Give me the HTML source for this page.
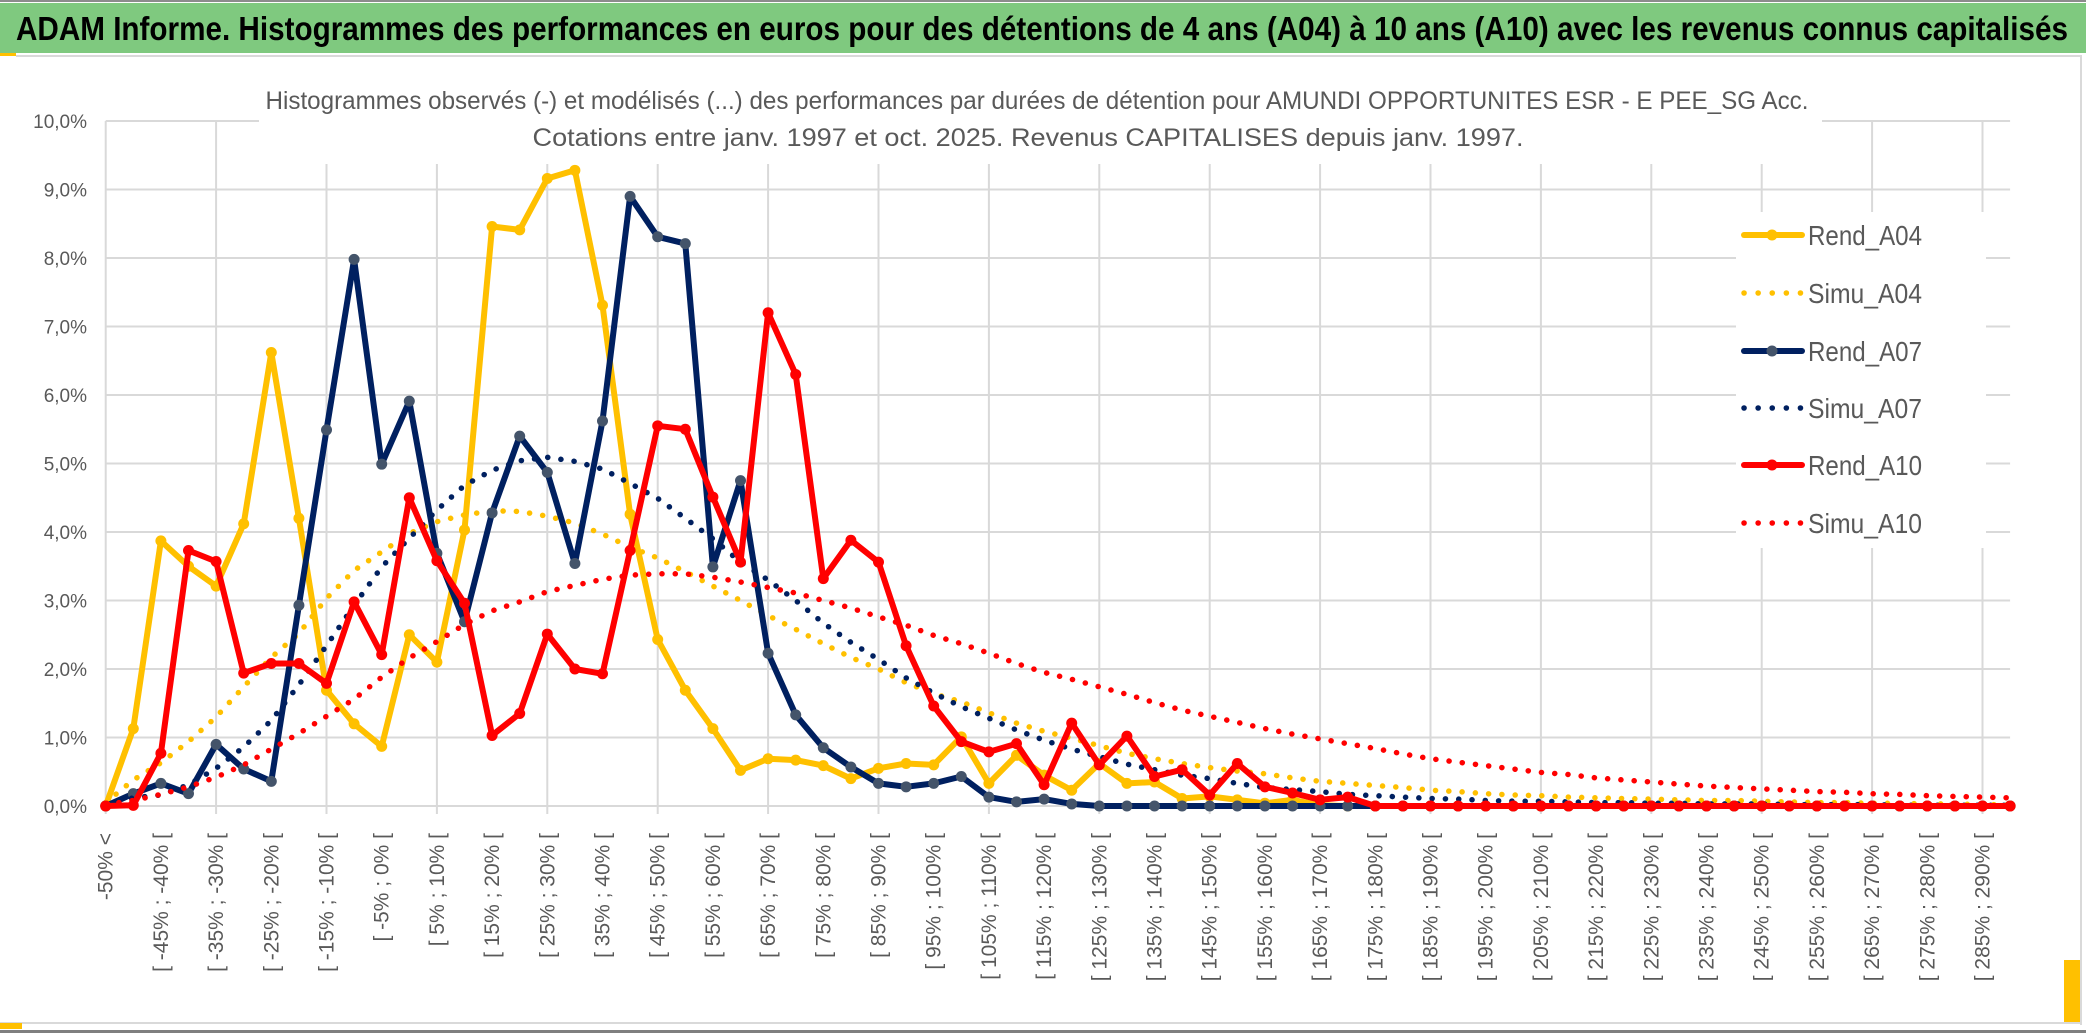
<!DOCTYPE html>
<html><head><meta charset="utf-8">
<style>
html,body{margin:0;padding:0;background:#fff;}
svg{display:block;font-family:"Liberation Sans",sans-serif;}
</style></head>
<body>
<svg id="chart" width="2086" height="1033" viewBox="0 0 2086 1033" xmlns="http://www.w3.org/2000/svg">
  <rect x="0" y="0" width="2086" height="1033" fill="#ffffff"/>
  <rect x="0" y="0" width="2086" height="2" fill="#8c8c8c"/>
  <rect x="0" y="3" width="2086" height="50" fill="#7fc97f"/>
  <text x="16" y="40" font-size="33" font-weight="bold" fill="#000" textLength="2052" lengthAdjust="spacingAndGlyphs">ADAM Informe. Histogrammes des performances en euros pour des détentions de 4 ans (A04) à 10 ans (A10) avec les revenus connus capitalisés</text>
  <rect x="0" y="53" width="16" height="3" fill="#ffc000"/>
  <rect x="16" y="55" width="2066" height="2" fill="#d9d9d9"/>
  <rect x="2080" y="55" width="2" height="970" fill="#d9d9d9"/>
  <rect x="0" y="1022" width="2082" height="2" fill="#d9d9d9"/>
  <rect x="0" y="1030" width="2086" height="3" fill="#7f7f7f"/>
  <rect x="0" y="1023" width="22" height="6" fill="#ffc000"/>
  <rect x="2064" y="960" width="16" height="62" fill="#ffc000"/>
  <g id="grid"></g>
  <rect x="259" y="78" width="1563" height="86" fill="#fff"/>
  <text x="1037" y="109" font-size="25" fill="#595959" text-anchor="middle" textLength="1543" lengthAdjust="spacingAndGlyphs">Histogrammes observés (-) et modélisés (...) des performances par durées de détention pour AMUNDI OPPORTUNITES ESR - E PEE_SG Acc.</text>
  <text x="1028" y="146" font-size="25" fill="#595959" text-anchor="middle" textLength="991" lengthAdjust="spacingAndGlyphs">Cotations entre janv. 1997 et oct. 2025. Revenus CAPITALISES depuis janv. 1997.</text>
  <g id="yaxis"></g>
  <g id="xaxis"></g>
  <g id="series"></g>
  <g id="legend"></g>
</svg>
<script>
const categories = ["-50% <","[ -50% ; -45% [","[ -45% ; -40% [","[ -40% ; -35% [","[ -35% ; -30% [","[ -30% ; -25% [","[ -25% ; -20% [","[ -20% ; -15% [","[ -15% ; -10% [","[ -10% ; -5% [",
"[ -5% ; 0% [","[ 0% ; 5% [","[ 5% ; 10% [","[ 10% ; 15% [","[ 15% ; 20% [","[ 20% ; 25% [","[ 25% ; 30% [","[ 30% ; 35% [","[ 35% ; 40% [","[ 40% ; 45% [",
"[ 45% ; 50% [","[ 50% ; 55% [","[ 55% ; 60% [","[ 60% ; 65% [","[ 65% ; 70% [","[ 70% ; 75% [","[ 75% ; 80% [","[ 80% ; 85% [","[ 85% ; 90% [","[ 90% ; 95% [",
"[ 95% ; 100% [","[ 100% ; 105% [","[ 105% ; 110% [","[ 110% ; 115% [","[ 115% ; 120% [","[ 120% ; 125% [","[ 125% ; 130% [","[ 130% ; 135% [","[ 135% ; 140% [","[ 140% ; 145% [",
"[ 145% ; 150% [","[ 150% ; 155% [","[ 155% ; 160% [","[ 160% ; 165% [","[ 165% ; 170% [","[ 170% ; 175% [","[ 175% ; 180% [","[ 180% ; 185% [","[ 185% ; 190% [","[ 190% ; 195% [",
"[ 195% ; 200% [","[ 200% ; 205% [","[ 205% ; 210% [","[ 210% ; 215% [","[ 215% ; 220% [","[ 220% ; 225% [","[ 225% ; 230% [","[ 230% ; 235% [","[ 235% ; 240% [","[ 240% ; 245% [",
"[ 245% ; 250% [","[ 250% ; 255% [","[ 255% ; 260% [","[ 260% ; 265% [","[ 265% ; 270% [","[ 270% ; 275% [","[ 275% ; 280% [","[ 280% ; 285% [","[ 285% ; 290% [","[ 290% ; 295% ["];
const yTicks = [0,1,2,3,4,5,6,7,8,9,10];
const yTickLabels = ["0,0%","1,0%","2,0%","3,0%","4,0%","5,0%","6,0%","7,0%","8,0%","9,0%","10,0%"];
const rendA04 = [0,1.13,3.87,3.5,3.21,4.12,6.62,4.2,1.69,1.2, 0.87,2.5,2.1,4.03,8.46,8.41,9.16,9.28,7.31,4.26, 2.43,1.69,1.13,0.52,0.69,0.67,0.59,0.40,0.55,0.62, 0.60,1.01,0.33,0.74,0.45,0.23,0.62,0.33,0.35,0.11, 0.14,0.09,0.04,0.09,0.01,0,0,0,0,0, 0,0,0,0,0,0,0,0,0,0, 0,0,0,0,0,0,0,0,0,0];
const simuA04 = [0.05,0.38,0.63,0.94,1.30,1.74,2.17,2.52,3.03,3.44, 3.71,3.98,4.15,4.25,4.31,4.30,4.23,4.13,3.97,3.78, 3.62,3.42,3.21,3.00,2.78,2.58,2.37,2.17,2.00,1.80, 1.64,1.52,1.36,1.21,1.09,0.99,0.88,0.77,0.69,0.62, 0.56,0.51,0.47,0.41,0.36,0.33,0.30,0.27,0.23,0.21, 0.18,0.16,0.15,0.13,0.12,0.11,0.10,0.09,0.08,0.08, 0.07,0.06,0.05,0.05,0.04,0.04,0.03,0.03,0.02,0.02];
const rendA07 = [0,0.18,0.33,0.18,0.9,0.54,0.36,2.93,5.49,7.98, 4.99,5.91,3.69,2.69,4.28,5.40,4.87,3.54,5.62,8.90, 8.31,8.21,3.49,4.75,2.23,1.33,0.85,0.57,0.33,0.28, 0.33,0.43,0.13,0.06,0.10,0.03,0,0,0,0, 0,0,0,0,0,0,0,0,0,0, 0,0,0,0,0,0,0,0,0,0, 0,0,0,0,0,0,0,0,0,0];
const simuA07 = [0.02,0.12,0.16,0.31,0.55,0.86,1.25,1.77,2.34,2.93, 3.49,3.91,4.32,4.68,4.90,5.04,5.09,5.03,4.92,4.71, 4.49,4.20,3.90,3.56,3.30,3.00,2.67,2.39,2.14,1.87, 1.65,1.45,1.28,1.11,0.96,0.83,0.72,0.61,0.53,0.45, 0.40,0.33,0.27,0.24,0.21,0.17,0.15,0.13,0.11,0.10, 0.08,0.07,0.07,0.06,0.05,0.05,0.04,0.04,0.03,0.03, 0.03,0.02,0.02,0.02,0.02,0.01,0.01,0.01,0.01,0.01];
const rendA10 = [0,0.01,0.77,3.73,3.57,1.94,2.08,2.08,1.79,2.98, 2.21,4.50,3.58,2.96,1.03,1.35,2.51,2.00,1.93,3.73, 5.55,5.50,4.51,3.56,7.20,6.30,3.32,3.88,3.56,2.34, 1.46,0.94,0.79,0.91,0.31,1.21,0.60,1.02,0.43,0.53, 0.16,0.62,0.28,0.19,0.09,0.13,0,0,0,0, 0,0,0,0,0,0,0,0,0,0, 0,0,0,0,0,0,0,0,0,0];
const simuA10 = [0.02,0.08,0.17,0.28,0.42,0.60,0.83,1.06,1.31,1.56, 1.88,2.16,2.40,2.65,2.85,2.98,3.13,3.22,3.31,3.37, 3.39,3.39,3.34,3.27,3.19,3.11,3.00,2.89,2.76,2.64, 2.49,2.37,2.23,2.08,1.95,1.85,1.74,1.63,1.51,1.40, 1.31,1.22,1.13,1.05,0.98,0.91,0.84,0.76,0.69,0.64, 0.59,0.54,0.49,0.46,0.41,0.38,0.35,0.32,0.29,0.27, 0.25,0.23,0.21,0.20,0.18,0.17,0.15,0.14,0.13,0.12];
const seriesNames = ["Rend_A04","Simu_A04","Rend_A07","Simu_A07","Rend_A10","Simu_A10"];

const NS = "http://www.w3.org/2000/svg";
const X0 = 105.7, XSTEP = 27.6, Y0 = 806, YMAX = 10, YTOP = 121;
function xScale(i){ return X0 + i * XSTEP; }
function yScale(v){ return Y0 - (v / YMAX) * (Y0 - YTOP); }
function mk(tag, attrs, parent){ const e = document.createElementNS(NS, tag); for (const k in attrs) e.setAttribute(k, attrs[k]); parent.appendChild(e); return e; }

const grid = document.getElementById('grid');
const xRight = xScale(categories.length - 1);
yTicks.forEach(function(t){
  const l = mk('line', {x1: X0, x2: xRight, y1: yScale(t), y2: yScale(t), stroke: '#d9d9d9', 'stroke-width': 2}, grid);
  
  
});
for (let i = 0; i < categories.length; i += 4) {
  const l = mk('line', {x1: xScale(i), x2: xScale(i), y1: yScale(10), y2: Y0 + 8, stroke: '#d9d9d9', 'stroke-width': 2}, grid);
  
  
}

const yaxis = document.getElementById('yaxis');
yTicks.forEach(function(t, k){
  const tx = mk('text', {x: 87, y: yScale(t) + 7, 'text-anchor': 'end', 'font-size': 19, fill: '#595959'}, yaxis);
  tx.textContent = yTickLabels[k];
  
  
});

const xaxis = document.getElementById('xaxis');
for (let i = 0; i < categories.length; i += 2) {
  const x = xScale(i) + 7;
  const tx = mk('text', {x: x, y: 833, 'text-anchor': 'end', 'font-size': 21, fill: '#595959', transform: 'rotate(-90 ' + x + ' 833)'}, xaxis);
  tx.textContent = categories[i];
  
  
}

const layer = document.getElementById('series');
function pathFor(arr){ return arr.map(function(v, i){ return (i ? 'L' : 'M') + xScale(i).toFixed(1) + ' ' + yScale(v).toFixed(1); }).join(' '); }
function drawSolid(arr, color, markerColor, name){
  const g = mk('g', {}, layer);
  
  
  const p = mk('path', {d: pathFor(arr), fill: 'none', stroke: color, 'stroke-width': 6, 'stroke-linejoin': 'round', 'stroke-linecap': 'round'}, g);
  
  
  arr.forEach(function(v, i){
    const c = mk('circle', {cx: xScale(i), cy: yScale(v), r: 5.5, fill: markerColor}, g);
    
    
  });
}
function drawDotted(arr, color, name){
  const p = mk('path', {d: pathFor(arr), fill: 'none', stroke: color, 'stroke-width': 5.5, 'stroke-linecap': 'round', 'stroke-linejoin': 'round', 'stroke-dasharray': '0.1 13.2'}, layer);
  
  
}
drawSolid(rendA04, '#ffc000', '#ffc000', 'rend-a04-series');
drawDotted(simuA04, '#ffc000', 'simu-a04-series');
drawSolid(rendA07, '#002060', '#44546a', 'rend-a07-series');
drawDotted(simuA07, '#002060', 'simu-a07-series');
drawSolid(rendA10, '#ff0000', '#ff0000', 'rend-a10-series');
drawDotted(simuA10, '#ff0000', 'simu-a10-series');

const legend = document.getElementById('legend');
const lb = mk('rect', {x: 1736, y: 212, width: 250, height: 336, fill: '#fff'}, legend);


const legendColors = ['#ffc000','#ffc000','#002060','#002060','#ff0000','#ff0000'];
const legendMarkers = ['#ffc000',null,'#44546a',null,'#ff0000',null];
const legendY = [235,293,351,408,465,523];
seriesNames.forEach(function(n, k){
  const g = mk('g', {}, legend);
  
  
  const y = legendY[k];
  if (legendMarkers[k]) {
    mk('line', {x1: 1744, x2: 1802, y1: y, y2: y, stroke: legendColors[k], 'stroke-width': 6, 'stroke-linecap': 'round'}, g);
    mk('circle', {cx: 1772, cy: y, r: 5.5, fill: legendMarkers[k]}, g);
  } else {
    mk('line', {x1: 1744, x2: 1802, y1: y, y2: y, stroke: legendColors[k], 'stroke-width': 5.5, 'stroke-linecap': 'round', 'stroke-dasharray': '0.1 14'}, g);
  }
  const t = mk('text', {x: 1808, y: y + 10, 'font-size': 28, fill: '#595959', textLength: 114, lengthAdjust: 'spacingAndGlyphs'}, g);
  t.textContent = n;
});
</script>
</body></html>
